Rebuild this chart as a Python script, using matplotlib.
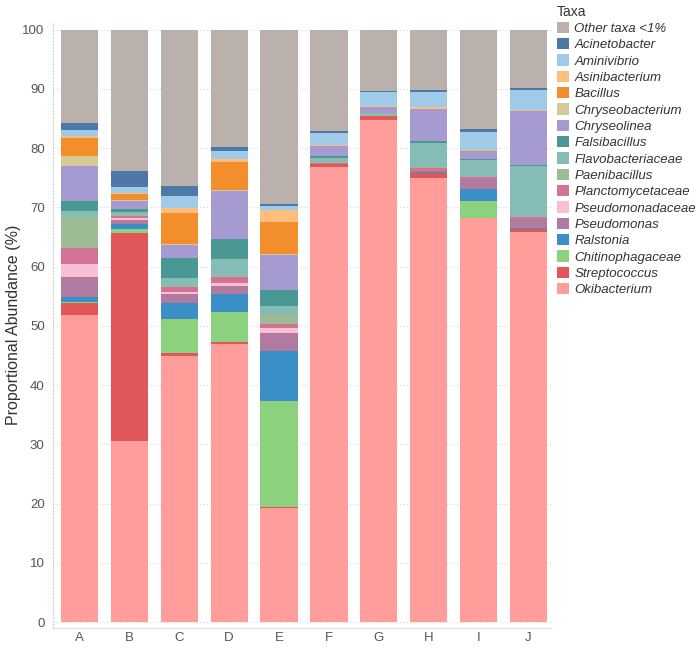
import matplotlib
matplotlib.use("Agg")
import matplotlib.pyplot as plt
import numpy as np
from matplotlib.patches import Patch

plt.rcParams['font.family'] = ['Liberation Sans', 'DejaVu Sans']

samples = ['A', 'B', 'C', 'D', 'E', 'F', 'G', 'H', 'I', 'J']

# stacking order: bottom -> top
okibacterium      = [51.8, 30.5, 45.0, 46.9, 19.2, 76.9, 84.8, 75.0, 68.2, 65.8]
streptococcus     = [2.0, 35.2, 0.5, 0.3, 0.3, 0.5, 0.6, 0.8, 0.0, 0.6]
chitinophagaceae  = [0.3, 0.7, 5.6, 5.1, 17.8, 0.0, 0.0, 0.0, 2.9, 0.0]
ralstonia         = [0.8, 0.8, 2.8, 3.1, 8.4, 0.0, 0.0, 0.2, 2.0, 0.2]
pseudomonas       = [3.4, 0.7, 1.4, 1.3, 3.1, 0.0, 0.0, 0.2, 1.7, 1.5]
pseudomonadaceae  = [2.1, 0.3, 0.4, 0.5, 0.8, 0.0, 0.0, 0.0, 0.0, 0.0]
planctomycetaceae = [2.7, 0.3, 0.8, 1.0, 0.7, 0.1, 0.0, 0.4, 0.4, 0.3]
paenibacillus     = [5.2, 0.2, 0.2, 0.2, 1.6, 0.2, 0.2, 0.3, 0.0, 0.0]
flavobacteriaceae = [1.1, 0.5, 1.3, 2.9, 1.5, 0.6, 0.4, 4.0, 2.8, 8.6]
falsibacillus     = [1.6, 0.6, 3.4, 3.3, 2.7, 0.3, 0.0, 0.3, 0.2, 0.2]
chryseolinea      = [6.0, 1.2, 2.2, 8.2, 5.8, 1.8, 1.0, 5.4, 1.1, 9.0]
chryseobacterium  = [1.6, 0.2, 0.2, 0.2, 0.2, 0.0, 0.0, 0.0, 0.0, 0.0]
bacillus          = [3.2, 1.0, 5.3, 4.7, 5.4, 0.0, 0.0, 0.0, 0.3, 0.0]
asinibacterium    = [0.2, 0.3, 0.8, 0.5, 2.0, 0.2, 0.2, 0.3, 0.0, 0.2]
aminivibrio       = [1.0, 1.0, 2.0, 1.4, 0.7, 2.0, 2.2, 2.6, 3.2, 3.5]
acinetobacter     = [1.3, 2.7, 1.7, 0.6, 0.4, 0.3, 0.2, 0.3, 0.5, 0.2]
other_taxa        = [15.7, 23.8, 26.4, 19.8, 29.4, 17.1, 10.4, 10.2, 16.7, 9.9]

series = [
    ('Okibacterium', okibacterium, '#FF9D9A'),
    ('Streptococcus', streptococcus, '#E15759'),
    ('Chitinophagaceae', chitinophagaceae, '#8CD17D'),
    ('Ralstonia', ralstonia, '#3A8FC6'),
    ('Pseudomonas', pseudomonas, '#B07AA1'),
    ('Pseudomonadaceae', pseudomonadaceae, '#FABFD2'),
    ('Planctomycetaceae', planctomycetaceae, '#D37295'),
    ('Paenibacillus', paenibacillus, '#9DBB94'),
    ('Flavobacteriaceae', flavobacteriaceae, '#86BCB6'),
    ('Falsibacillus', falsibacillus, '#499894'),
    ('Chryseolinea', chryseolinea, '#A59BD0'),
    ('Chryseobacterium', chryseobacterium, '#D5C995'),
    ('Bacillus', bacillus, '#F28E2B'),
    ('Asinibacterium', asinibacterium, '#FFBE7D'),
    ('Aminivibrio', aminivibrio, '#A0CBE8'),
    ('Acinetobacter', acinetobacter, '#4E79A7'),
    ('Other taxa <1%', other_taxa, '#BAB0AC'),
]

fig = plt.figure(figsize=(7.0, 6.48), dpi=100)
ax = fig.add_axes([53/700, 20/648, (552-53)/700, (628-22)/648])

x = np.arange(len(samples))
bottom = np.zeros(len(samples))
for name, vals, col in series:
    v = np.array(vals, dtype=float)
    ax.bar(x, v, bottom=bottom, width=0.745, color=col, linewidth=0, zorder=2)
    bottom += v

ax.set_xlim(-0.53, 9.47)
ax.set_ylim(-1.0, 101.3)
ax.set_yticks(np.arange(0, 101, 10))
ax.set_xticks(x)
ax.set_xticklabels(samples)
ax.tick_params(axis='both', colors='#555555', labelsize=9.5, length=0)
ax.tick_params(axis='y', pad=6)
ax.tick_params(axis='x', pad=3)
for t in ax.get_xticklabels() + ax.get_yticklabels():
    t.set_color('#555555')

ax.grid(axis='y', linestyle=(0, (1, 2)), color='#d5d5d5', linewidth=0.8, zorder=0)
for s in ['top', 'right']:
    ax.spines[s].set_visible(False)
ax.spines['left'].set_linestyle((0, (1, 2)))
ax.spines['left'].set_color('#d0d0d0')
ax.spines['bottom'].set_linestyle((0, (1, 2)))
ax.spines['bottom'].set_color('#d0d0d0')

ax.set_ylabel('Proportional Abundance (%)', fontsize=11.5, color='#333333')
ax.yaxis.set_label_coords(-32/499, 0.5)

handles = [Patch(facecolor=col, edgecolor='none', label=name) for name, vals, col in series[::-1]]
leg = fig.legend(handles=handles, loc='upper left', bbox_to_anchor=(554/700, 1 - 2/648),
                 frameon=False, title='Taxa', alignment='left',
                 prop={'style': 'italic', 'size': 9.5},
                 handlelength=0.95, handleheight=0.95, handletextpad=0.4,
                 labelspacing=0.235, borderaxespad=0, borderpad=0.2)
leg.get_title().set_fontsize(10)
leg.get_title().set_color('#333333')
for t in leg.get_texts():
    t.set_color('#333333')

fig.savefig('out.png', dpi=100)
